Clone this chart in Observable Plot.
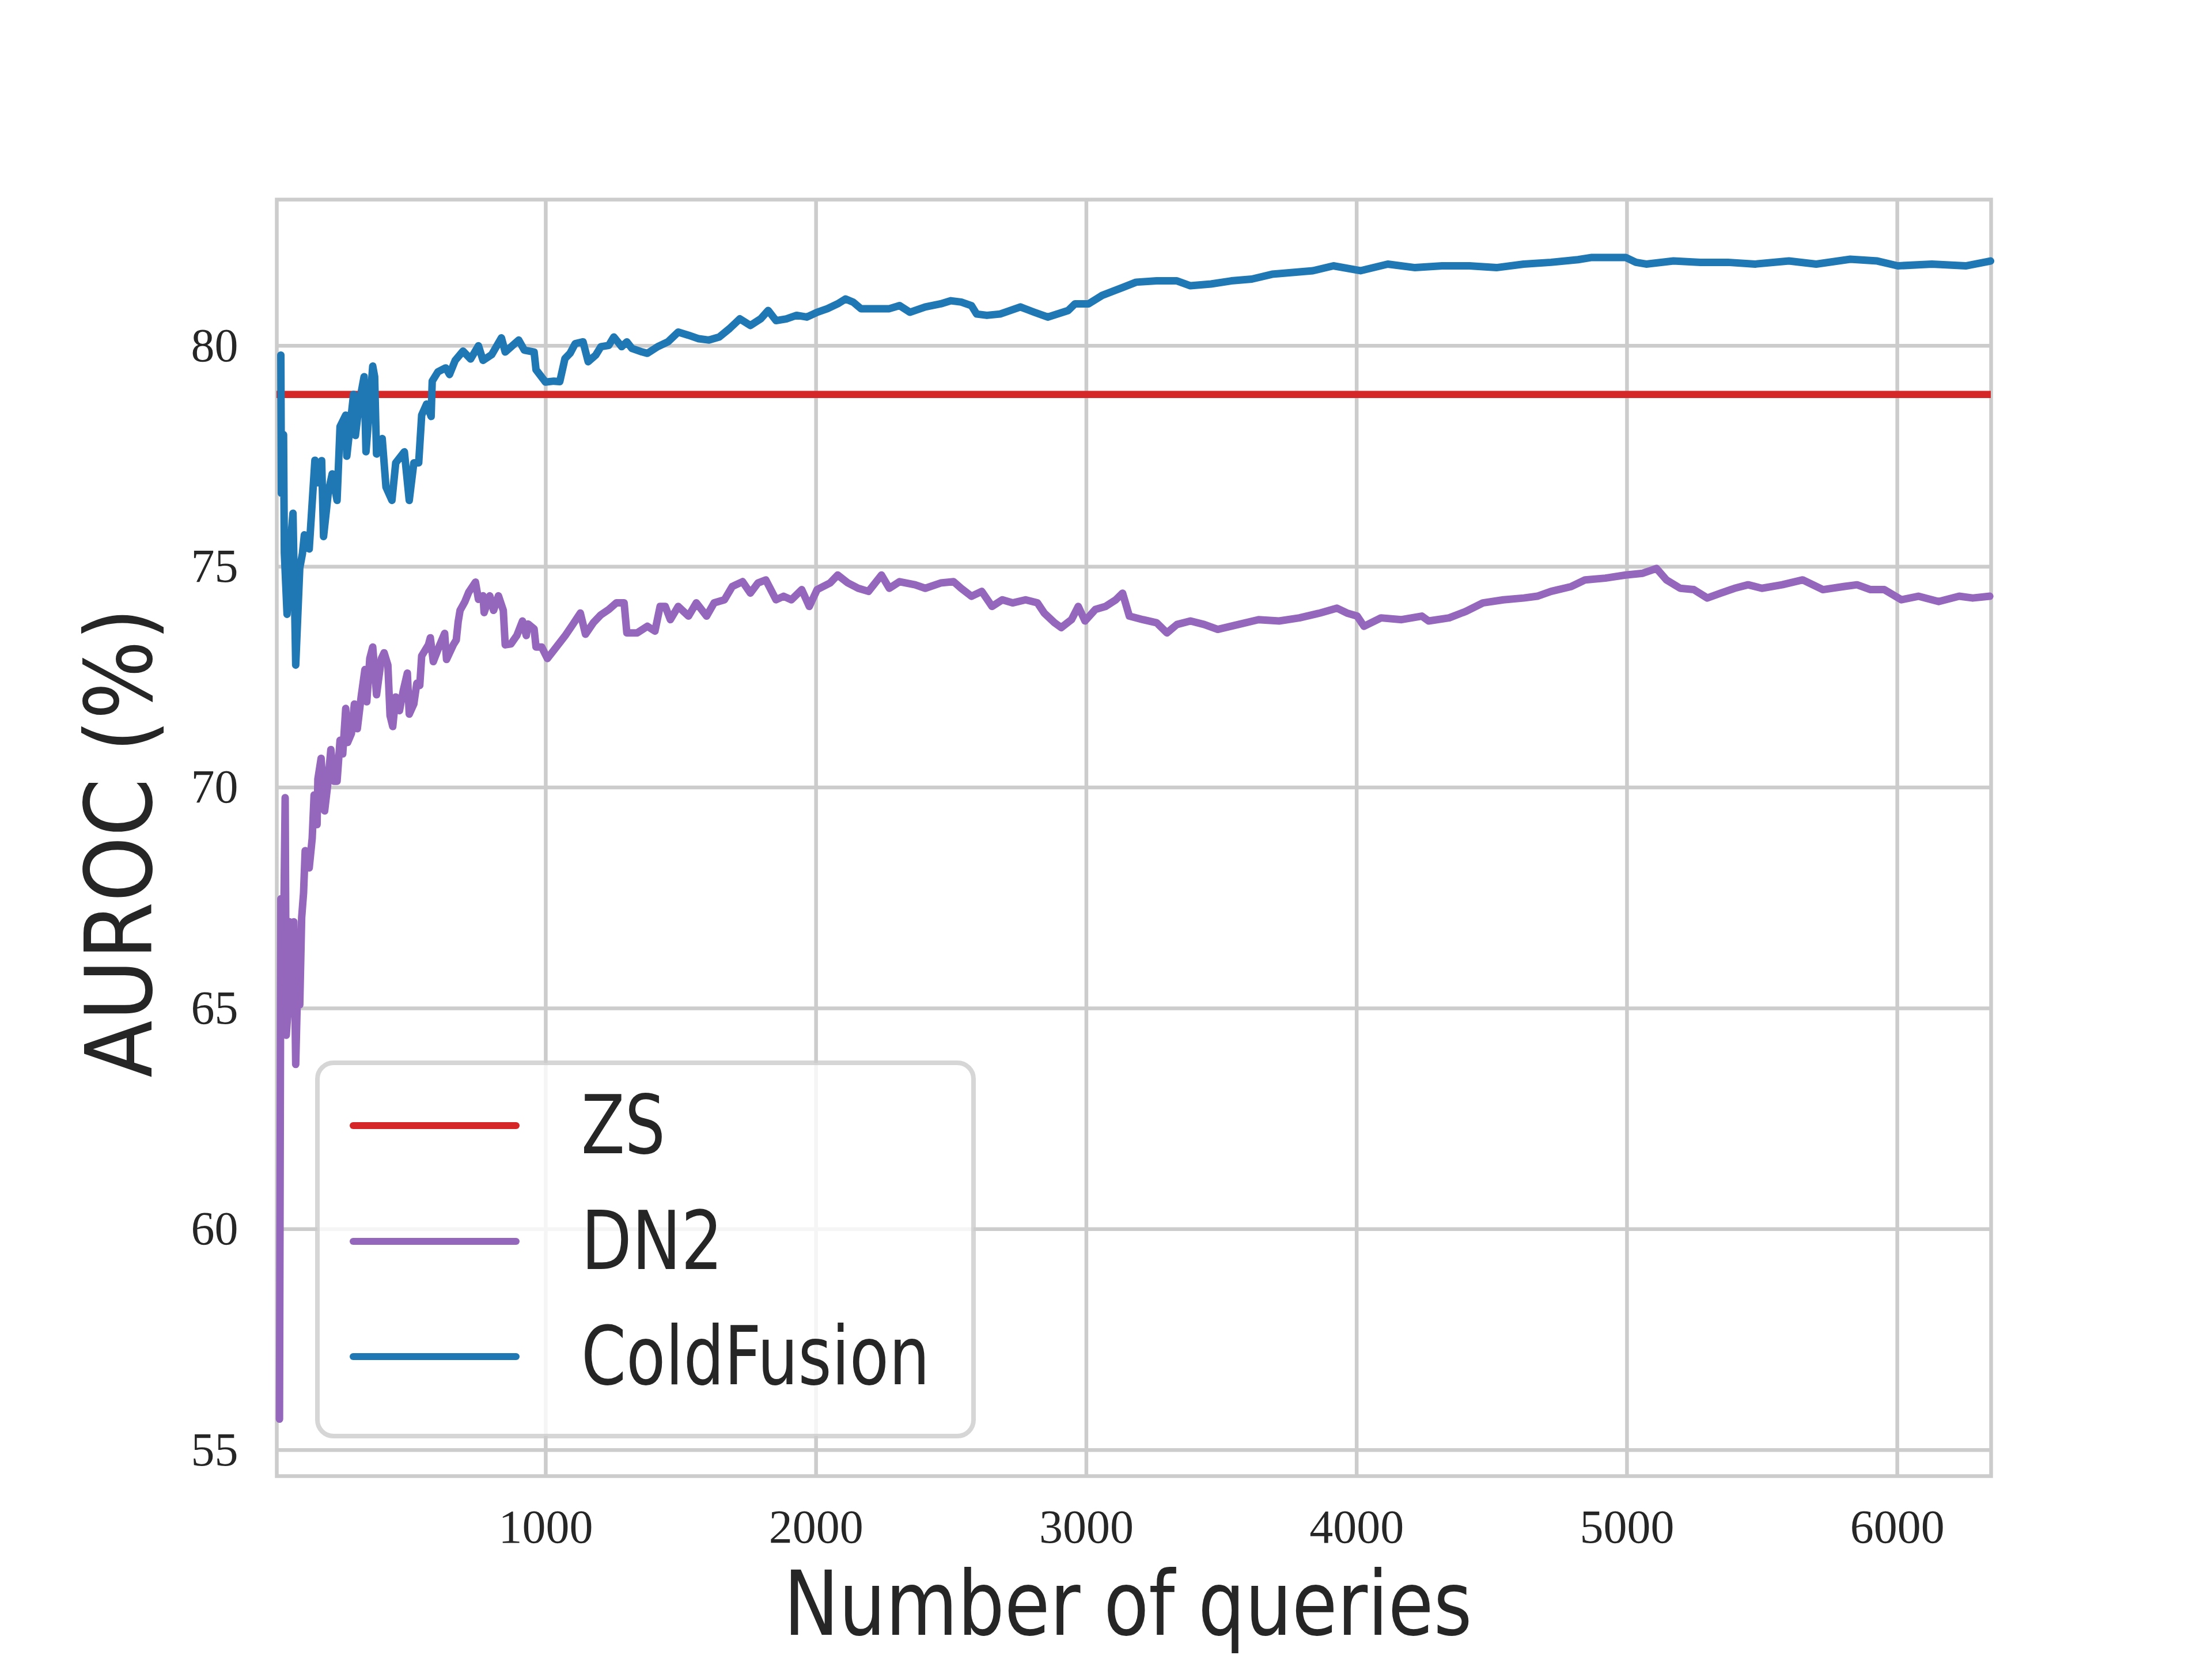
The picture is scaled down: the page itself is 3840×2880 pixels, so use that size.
<!DOCTYPE html>
<html>
<head>
<meta charset="utf-8">
<script src="https://cdn.jsdelivr.net/npm/d3@7"></script>
<script src="https://cdn.jsdelivr.net/npm/@observablehq/plot@0.6"></script>
<style>
  html, body { margin: 0; padding: 0; background: #ffffff; }
  svg { display: block; }
</style>
</head>
<body>
<div id="chart"></div>
<script>
// ---- data ----
const xTicks = [1000, 2000, 3000, 4000, 5000, 6000];
const yTicks = [55, 60, 65, 70, 75, 80];
const seriesNames = ["ZS", "DN2", "ColdFusion"];
const seriesColors = ["#d62728", "#9467bd", "#1f77b4"];

const zsAuroc = 78.9;

const cfQueries = [20,22,30,33,43,55,65,75,90,100,107,125,146,157,171,178,196,210,228,239,260,264,289,296,310,328,335,360,367,374,395,409,431,445,477,495,512,530,541,559,576,580,601,630,644,665,694,722,751,768,800,836,850,900,921,957,964,999,1030,1052,1071,1090,1109,1138,1157,1185,1204,1233,1252,1281,1300,1319,1357,1376,1414,1452,1490,1528,1566,1604,1642,1680,1718,1757,1795,1823,1852,1890,1928,1966,2004,2042,2080,2109,2137,2166,2213,2271,2309,2347,2404,2461,2499,2537,2575,2594,2632,2681,2756,2807,2857,2933,2958,3008,3058,3134,3184,3260,3335,3385,3461,3536,3612,3687,3763,3838,3914,4014,4115,4216,4316,4417,4517,4618,4719,4819,4870,4995,5033,5071,5172,5272,5373,5474,5599,5700,5826,5926,6002,6128,6253,6329,6345];
const cfAuroc = [79.79,76.66,77.99,75.31,73.92,75.5,76.21,72.77,74.97,75.3,75.72,75.4,77.41,76.9,77.4,75.68,76.7,77.1,76.5,78.17,78.43,77.5,78.9,77.97,78.7,79.3,77.6,79.54,79.3,77.55,77.9,76.8,76.5,77.35,77.6,76.5,77.35,77.35,78.43,78.68,78.4,79.2,79.41,79.5,79.35,79.67,79.88,79.7,80.0,79.67,79.8,80.18,79.86,80.13,79.9,79.86,79.46,79.18,79.2,79.19,79.71,79.83,80.05,80.09,79.64,79.79,79.98,80.01,80.2,79.98,80.09,79.94,79.86,79.83,79.98,80.09,80.31,80.24,80.16,80.13,80.2,80.39,80.61,80.46,80.61,80.8,80.57,80.61,80.69,80.65,80.76,80.84,80.95,81.06,80.99,80.84,80.84,80.84,80.91,80.76,80.88,80.95,81.02,80.99,80.91,80.72,80.69,80.72,80.88,80.76,80.65,80.8,80.95,80.95,81.14,81.32,81.44,81.47,81.47,81.36,81.4,81.47,81.51,81.62,81.66,81.7,81.81,81.7,81.85,81.77,81.81,81.81,81.77,81.85,81.89,81.95,82.0,82.0,81.89,81.85,81.92,81.89,81.89,81.85,81.92,81.85,81.96,81.92,81.81,81.85,81.81,81.9,81.92];

const dnQueries = [15,20,25,30,36,40,47,52,60,68,75,82,90,97,104,110,114,125,136,143,154,157,169,182,193,205,217,228,239,249,260,267,281,292,303,317,331,338,349,360,374,392,402,416,424,434,445,459,473,488,495,512,523,534,541,566,573,584,608,626,633,658,669,676,683,701,715,740,751,768,772,793,807,825,843,850,871,893,914,928,935,957,964,985,1006,1033,1071,1100,1128,1147,1176,1204,1233,1261,1290,1300,1338,1376,1404,1423,1442,1461,1490,1528,1557,1595,1623,1661,1690,1728,1757,1785,1814,1852,1880,1909,1947,1975,2004,2052,2080,2118,2156,2194,2242,2271,2309,2366,2404,2461,2509,2537,2575,2613,2651,2689,2727,2775,2819,2844,2882,2907,2945,2970,2995,3033,3071,3109,3134,3159,3209,3260,3298,3335,3385,3436,3486,3562,3637,3713,3788,3864,3927,3964,4002,4027,4090,4166,4241,4266,4342,4405,4467,4543,4618,4668,4719,4794,4845,4920,4995,5058,5109,5146,5197,5247,5297,5347,5398,5448,5499,5574,5650,5725,5801,5851,5901,5952,6015,6078,6153,6229,6279,6342];
const dnAuroc = [55.7,67.48,64.4,66.5,69.77,64.39,64.99,66.96,66.8,66.96,63.73,65.5,65.08,67.05,67.61,68.57,68.49,68.18,68.85,69.83,69.16,70.19,70.66,69.47,70.04,70.86,70.14,70.14,71.07,70.76,71.79,71.02,71.22,71.89,71.33,72.05,72.67,71.94,72.92,73.18,72.1,72.92,73.05,72.77,71.63,71.38,72.05,71.74,72.2,72.59,71.66,71.89,72.36,72.31,72.98,73.23,73.39,72.85,73.23,73.49,72.9,73.23,73.34,73.75,74.01,74.21,74.42,74.65,74.26,74.34,73.96,74.34,74.01,74.34,74.01,73.23,73.25,73.44,73.77,73.44,73.7,73.59,73.18,73.18,72.92,73.13,73.43,73.69,73.95,73.47,73.73,73.91,74.03,74.18,74.18,73.5,73.5,73.65,73.54,74.1,74.1,73.8,74.1,73.88,74.18,73.88,74.18,74.25,74.55,74.66,74.4,74.63,74.7,74.25,74.33,74.25,74.48,74.1,74.48,74.63,74.81,74.63,74.51,74.44,74.81,74.51,74.66,74.59,74.51,74.63,74.66,74.51,74.33,74.44,74.1,74.25,74.18,74.25,74.18,73.95,73.73,73.62,73.8,74.1,73.77,74.03,74.1,74.25,74.4,73.88,73.8,73.73,73.5,73.69,73.77,73.69,73.58,73.69,73.8,73.77,73.84,73.95,74.06,73.95,73.88,73.65,73.84,73.8,73.88,73.77,73.84,73.99,74.18,74.25,74.29,74.33,74.44,74.55,74.7,74.74,74.81,74.85,74.96,74.7,74.51,74.48,74.29,74.4,74.51,74.59,74.51,74.59,74.7,74.48,74.55,74.59,74.48,74.48,74.25,74.33,74.21,74.33,74.29,74.33];

const xLabel = "Number of queries";
const yLabel = "AUROC (%)";

// ---- tables built from the arrays ----
const cfData = cfQueries.map((q, i) => ({q, v: cfAuroc[i]}));
const dnData = dnQueries.map((q, i) => ({q, v: dnAuroc[i]}));

const W = 3840, H = 2880;
const mL = 480, mR = 384, mT = 346, mB = 318;
const gridColor = "#cccccc";
const textColor = "#262626";
const lw = 13;

const chart = Plot.plot({
  width: W,
  height: H,
  marginLeft: mL,
  marginRight: mR,
  marginTop: mT,
  marginBottom: mB,
  style: {
    background: "#ffffff",
    fontFamily: "'Liberation Serif', 'DejaVu Serif', serif",
    fontSize: "82px",
    color: textColor
  },
  x: {
    domain: [5, 6347],
    ticks: xTicks,
    tickFormat: d => String(d),
    tickSize: 0,
    tickPadding: 57,
    label: null
  },
  y: {
    domain: [54.41, 83.31],
    ticks: yTicks,
    tickFormat: d => String(d),
    tickSize: 0,
    tickPadding: 67,
    label: null
  },
  marks: [
    Plot.ruleX(xTicks, {stroke: gridColor, strokeWidth: 6.5}),
    Plot.ruleY(yTicks, {stroke: gridColor, strokeWidth: 6.5}),
    Plot.frame({stroke: gridColor, strokeWidth: 6.5}),
    Plot.ruleY([zsAuroc], {stroke: seriesColors[0], strokeWidth: 12.5}),
    Plot.line(dnData, {x: "q", y: "v", stroke: seriesColors[1], strokeWidth: lw, strokeLinejoin: "round", strokeLinecap: "round"}),
    Plot.line(cfData, {x: "q", y: "v", stroke: seriesColors[2], strokeWidth: lw, strokeLinejoin: "round", strokeLinecap: "round"})
  ]
});

const svg = d3.select(chart);

const sansFont = "'Liberation Sans Narrow', 'DejaVu Sans Condensed', 'Roboto', sans-serif";

// axis labels
svg.append("text")
  .attr("x", 1958).attr("y", 2838)
  .attr("text-anchor", "middle")
  .attr("font-family", sansFont)
  .attr("font-size", 155)
  .attr("fill", textColor)
  .attr("textLength", 1195)
  .attr("lengthAdjust", "spacingAndGlyphs")
  .text(xLabel);

svg.append("text")
  .attr("transform", "translate(263,1463) rotate(-90)")
  .attr("text-anchor", "middle")
  .attr("font-family", sansFont)
  .attr("font-size", 160)
  .attr("fill", textColor)
  .attr("textLength", 815)
  .attr("lengthAdjust", "spacingAndGlyphs")
  .text(yLabel);

// legend
const lg = svg.append("g");
lg.append("rect")
  .attr("x", 551).attr("y", 1845)
  .attr("width", 1139).attr("height", 648)
  .attr("rx", 28).attr("ry", 28)
  .attr("fill", "#ffffff").attr("fill-opacity", 0.8)
  .attr("stroke", gridColor).attr("stroke-opacity", 0.8)
  .attr("stroke-width", 8);

const rowsY = [1954, 2155, 2355];
const textLens = [146, 246, 605];
seriesNames.forEach((name, i) => {
  lg.append("line")
    .attr("x1", 613).attr("x2", 896)
    .attr("y1", rowsY[i]).attr("y2", rowsY[i])
    .attr("stroke", seriesColors[i])
    .attr("stroke-width", 12)
    .attr("stroke-linecap", "round");
  lg.append("text")
    .attr("x", 1009).attr("y", rowsY[i] + 48)
    .attr("text-anchor", "start")
    .attr("font-family", sansFont)
    .attr("font-size", 140)
    .attr("fill", textColor)
    .attr("textLength", textLens[i])
    .attr("lengthAdjust", "spacingAndGlyphs")
    .text(name);
});

document.getElementById("chart").appendChild(chart);
</script>
</body>
</html>
